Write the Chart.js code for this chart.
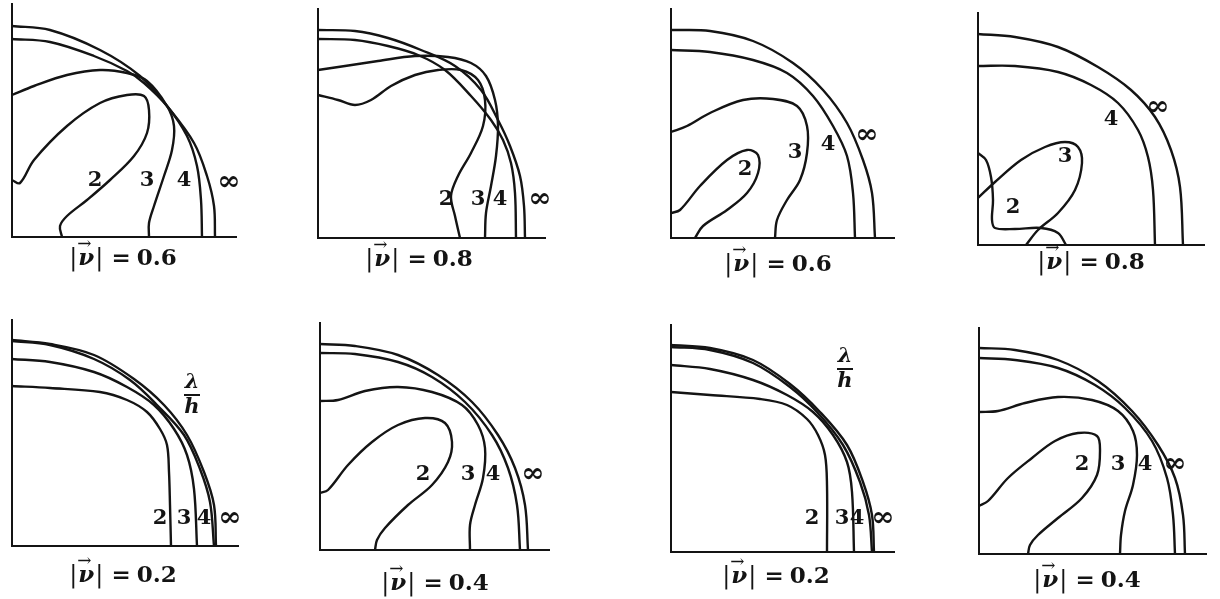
<!DOCTYPE html>
<html>
<head>
<meta charset="utf-8">
<script src="https://cdn.jsdelivr.net/npm/chart.js@4.4.0/dist/chart.umd.min.js"></script>
<style>
body { margin: 0; background: #fff; width: 1220px; height: 599px; position: relative; overflow: hidden; }
canvas { position: absolute; }
.cap { position: absolute; font: bold 23px "DejaVu Serif", serif; color: #141414; white-space: nowrap; transform: translate(-50%, -50%); line-height: 26px; }
.cap .bar { font-weight: normal; font-size: 24px; }
.cap .vec { position: relative; font-style: italic; margin: 0 1px; }
.cap .arr { position: absolute; left: -1px; top: -13px; font-size: 17px; font-weight: normal; font-style: normal; }
.cap .eq { margin: 0 6px 0 8px; }
</style>
</head>
<body>
<script>
// curve order in every panel: 2, 3, 4, infinity
var curveLabels = ['2', '3', '4', '\u221e'];
var speeds = ['0.6', '0.8', '0.6', '0.8', '0.2', '0.4', '0.2', '0.4'];

// panel 1  |v| = 0.6
var p1_n2 = [[50,0],[48,11],[55,21],[75,37],[98,57],[122,81],[135,104],[137,127],[132,141],[115,142],[88,134],[55,111],[22,77],[8,54],[0,57]];
var p1_n3 = [[137,0],[137,14],[142,31],[152,61],[160,87],[162,111],[155,131],[135,156],[115,164],[88,167],[55,162],[22,151],[0,142]];
var p1_n4 = [[190,0],[189,37],[185,71],[175,101],[155,131],[132,154],[115,166],[82,181],[38,195],[0,198]];
var p1_inf = [[203,0],[202,31],[195,61],[182,94],[155,131],[128,161],[88,187],[38,207],[0,211]];
var p1_text = [[83,56],[135,56],[172,56],[217,54]];

// panel 2  |v| = 0.8
var p2_n2 = [[142,0],[137,22],[133,42],[140,62],[153,85],[165,112],[167,138],[160,158],[143,168],[120,168],[97,163],[73,152],[53,138],[37,133],[20,138],[0,143]];
var p2_n3 = [[167,0],[168,25],[173,52],[178,82],[180,112],[177,138],[168,162],[153,175],[130,181],[97,182],[60,177],[27,172],[0,168]];
var p2_n4 = [[198,0],[197,45],[193,75],[185,98],[173,118],[153,142],[127,168],[100,183],[70,192],[37,198],[0,199]];
var p2_inf = [[207,0],[206,32],[202,62],[192,92],[180,118],[163,148],[137,172],[103,188],[70,200],[37,207],[0,208]];
var p2_text = [[128,38],[160,38],[182,38],[222,38]];

// panel 3  |v| = 0.6
var p3_n2 = [[24,0],[32,12],[56,28],[76,45],[87,65],[87,83],[76,88],[56,78],[29,52],[9,28],[0,25]];
var p3_n3 = [[104,0],[106,18],[116,38],[129,58],[136,85],[136,112],[126,132],[102,139],[72,138],[39,125],[16,112],[0,106]];
var p3_n4 = [[184,0],[182,45],[176,82],[162,112],[142,142],[116,165],[82,178],[39,186],[0,188]];
var p3_inf = [[204,0],[201,45],[192,78],[176,115],[152,148],[122,175],[82,197],[39,207],[0,208]];
var p3_text = [[74,68],[124,85],[157,93],[196,102]];

// panel 4  |v| = 0.8
var p4_n2 = [[88,0],[80,12],[63,17],[37,16],[17,17],[14,25],[15,45],[13,68],[8,85],[0,92]];
var p4_n3 = [[48,0],[60,15],[80,32],[97,55],[104,82],[100,98],[87,103],[67,98],[43,85],[17,63],[0,47]];
var p4_n4 = [[177,0],[175,55],[170,88],[160,115],[140,142],[113,160],[80,173],[37,179],[0,179]];
var p4_inf = [[205,0],[202,58],[193,95],[177,128],[153,155],[120,178],[80,198],[37,208],[0,211]];
var p4_text = [[35,37],[87,88],[133,125],[180,137]];

// panel 5  |v| = 0.2
var p5_n2 = [[159,0],[158,41],[157,74],[155,101],[148,117],[135,134],[115,146],[88,154],[38,158],[0,160]];
var p5_n3 = [[185,0],[182,57],[175,91],[162,117],[142,141],[115,159],[82,174],[38,184],[0,187]];
var p5_n4 = [[202,0],[198,44],[188,77],[172,111],[145,141],[118,166],[82,187],[38,201],[0,205]];
var p5_inf = [[204,0],[202,41],[192,74],[175,111],[152,141],[122,167],[82,191],[38,202],[0,206]];
var p5_text = [[148,27],[172,27],[192,27],[218,27]];

// panel 6  |v| = 0.4
var p6_n2 = [[55,0],[57,10],[65,22],[88,45],[112,65],[128,88],[132,108],[125,127],[105,132],[78,125],[52,108],[28,85],[8,60],[0,57]];
var p6_n3 = [[150,0],[150,25],[155,45],[163,72],[165,102],[158,125],[142,145],[112,158],[78,163],[45,159],[18,150],[0,149]];
var p6_n4 = [[200,0],[197,45],[188,82],[172,115],[145,148],[112,173],[78,188],[35,196],[0,197]];
var p6_inf = [[208,0],[205,45],[195,82],[178,115],[152,148],[118,175],[78,195],[35,204],[0,206]];
var p6_text = [[103,75],[148,75],[173,75],[213,75]];

// panel 7  |v| = 0.2
var p7_n2 = [[156,0],[156,67],[154,97],[147,117],[136,133],[116,147],[89,153],[39,157],[0,160]];
var p7_n3 = [[183,0],[181,60],[176,90],[162,117],[142,140],[116,157],[82,172],[39,183],[0,187]];
var p7_n4 = [[201,0],[198,37],[189,70],[172,107],[146,140],[119,165],[82,189],[39,202],[0,205]];
var p7_inf = [[203,0],[201,37],[192,70],[176,107],[149,140],[119,168],[82,192],[39,204],[0,207]];
var p7_text = [[141,33],[171,33],[186,33],[212,33]];

// panel 8  |v| = 0.4
var p8_n2 = [[49,0],[51,9],[59,19],[79,36],[103,56],[118,79],[121,103],[118,118],[99,121],[76,113],[53,96],[29,76],[9,53],[0,48]];
var p8_n3 = [[141,0],[142,19],[146,43],[154,69],[158,99],[154,123],[139,143],[113,154],[79,157],[46,151],[19,143],[0,142]];
var p8_n4 = [[196,0],[194,39],[188,76],[173,113],[146,146],[116,169],[79,186],[36,194],[0,196]];
var p8_inf = [[206,0],[204,39],[196,76],[179,109],[153,143],[119,173],[79,194],[36,204],[0,206]];
var p8_text = [[103,89],[139,89],[166,89],[196,89]];

// lambda / h marker position (panels 5 and 7)
var p5_frac = [180, 151];
var p7_frac = [174, 183];

var panelCurves = [
    [p1_n2, p1_n3, p1_n4, p1_inf],
    [p2_n2, p2_n3, p2_n4, p2_inf],
    [p3_n2, p3_n3, p3_n4, p3_inf],
    [p4_n2, p4_n3, p4_n4, p4_inf],
    [p5_n2, p5_n3, p5_n4, p5_inf],
    [p6_n2, p6_n3, p6_n4, p6_inf],
    [p7_n2, p7_n3, p7_n4, p7_inf],
    [p8_n2, p8_n3, p8_n4, p8_inf]
];
var panelText = [p1_text, p2_text, p3_text, p4_text, p5_text, p6_text, p7_text, p8_text];
var panelFrac = [null, null, null, null, p5_frac, null, p7_frac, null];

// layout: origin of axes on the page, axis lengths, caption centre
var PAD = 8;
var layout = [
    {ox: 11.7,  oy: 237,   w: 225, h: 234, cx: 123,  cy: 257},
    {ox: 318.3, oy: 238.3, w: 228, h: 230, cx: 419,  cy: 258},
    {ox: 671,   oy: 238.3, w: 224, h: 230, cx: 778,  cy: 263},
    {ox: 978.3, oy: 245,   w: 227, h: 233, cx: 1091, cy: 261},
    {ox: 11.7,  oy: 545.7, w: 227, h: 227, cx: 123,  cy: 574},
    {ox: 320,   oy: 550,   w: 230, h: 228, cx: 435,  cy: 582},
    {ox: 671,   oy: 551.7, w: 224, h: 228, cx: 776,  cy: 575},
    {ox: 979,   oy: 554.3, w: 228, h: 227, cx: 1087, cy: 579}
];

var INK = '#141414';

var textPlugin = {
    id: 'curveText',
    afterDatasetsDraw: function(chart, args, opts) {
        var ctx = chart.ctx, xs = chart.scales.x, ys = chart.scales.y;
        ctx.save();
        ctx.fillStyle = INK;
        ctx.strokeStyle = INK;
        ctx.textAlign = 'center';
        ctx.textBaseline = 'middle';
        opts.pos.forEach(function(p, i) {
            if (curveLabels[i] == '\u221e') ctx.font = 'bold 28px "DejaVu Serif", serif';
            else ctx.font = 'bold 21px "DejaVu Serif", serif';
            ctx.fillText(curveLabels[i], xs.getPixelForValue(p[0]), ys.getPixelForValue(p[1]));
        });
        if (opts.frac) {
            var fx = xs.getPixelForValue(opts.frac[0]), fy = ys.getPixelForValue(opts.frac[1]);
            ctx.font = 'italic bold 21px "DejaVu Serif", serif';
            ctx.fillText('\u03bb', fx, fy - 12);
            ctx.fillText('h', fx, fy + 13);
            ctx.lineWidth = 2;
            ctx.beginPath();
            ctx.moveTo(fx - 8, fy);
            ctx.lineTo(fx + 8, fy);
            ctx.stroke();
        }
        ctx.restore();
    }
};

layout.forEach(function(L, k) {
    var cv = document.createElement('canvas');
    cv.width = L.w + 2 * PAD;
    cv.height = L.h + 2 * PAD;
    cv.style.left = (L.ox - PAD) + 'px';
    cv.style.top = (L.oy - L.h - PAD) + 'px';
    document.body.appendChild(cv);

    var sets = panelCurves[k].map(function(c) {
        return {
            data: c.map(function(p) { return {x: p[0], y: p[1]}; }),
            showLine: true, borderColor: INK, borderWidth: 2.4,
            tension: 0.35, pointRadius: 0, clip: false
        };
    });
    // the two axes
    sets.push({
        data: [{x: 0, y: L.h}, {x: 0, y: 0}, {x: L.w, y: 0}],
        showLine: true, borderColor: INK, borderWidth: 2,
        tension: 0, pointRadius: 0, clip: false
    });

    new Chart(cv, {
        type: 'scatter',
        data: {datasets: sets},
        options: {
            animation: false,
            responsive: false,
            layout: {padding: PAD},
            plugins: {
                legend: {display: false},
                tooltip: {enabled: false},
                curveText: {pos: panelText[k], frac: panelFrac[k]}
            },
            scales: {
                x: {type: 'linear', display: false, min: 0, max: L.w},
                y: {type: 'linear', display: false, min: 0, max: L.h}
            }
        },
        plugins: [textPlugin]
    });

    var cap = document.createElement('div');
    cap.className = 'cap';
    cap.style.left = L.cx + 'px';
    cap.style.top = L.cy + 'px';
    cap.innerHTML = '<span class="bar">|</span><span class="vec">\u03bd<span class="arr">\u2192</span></span>' +
        '<span class="bar">|</span><span class="eq">=</span>' + speeds[k];
    document.body.appendChild(cap);
});
</script>
</body>
</html>
